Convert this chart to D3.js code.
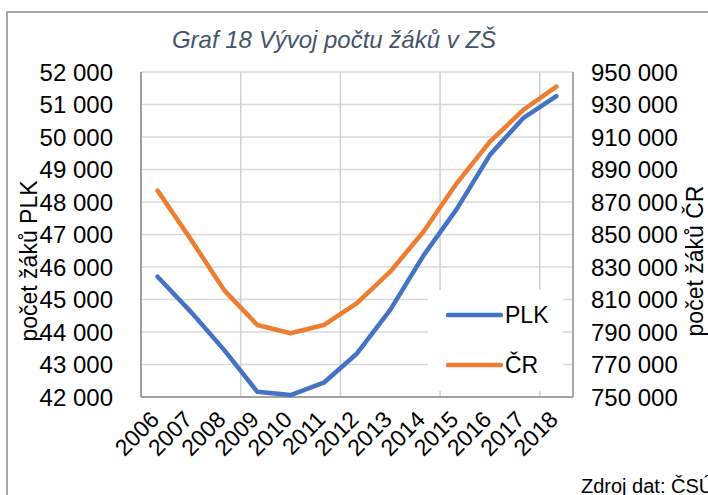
<!DOCTYPE html>
<html>
<head>
<meta charset="utf-8">
<script src="https://cdn.jsdelivr.net/npm/d3@7"></script>
<style>
  body { margin: 0; background: #fff; }
  svg { display: block; font-family: "Liberation Sans", Arial, sans-serif; }
</style>
</head>
<body>
<svg id="chart" width="708" height="495"></svg>
<script>
// data
const years = ["2006", "2007", "2008", "2009", "2010", "2011", "2012", "2013", "2014", "2015", "2016", "2017", "2018"];
const plk = [45700, 44620, 43450, 42160, 42060, 42440, 43340, 44680, 46350, 47780, 49450, 50580, 51260];
const cr = [877000, 847000, 815800, 794300, 789200, 794300, 807700, 827100, 851700, 881500, 907100, 926600, 941000];
const leftTicks = [42000, 43000, 44000, 45000, 46000, 47000, 48000, 49000, 50000, 51000, 52000];
const rightTicks = [750000, 770000, 790000, 810000, 830000, 850000, 870000, 890000, 910000, 930000, 950000];
const seriesNames = ["PLK", "ČR"];
const colors = ["#4472C4", "#ED7D31"];

const plot = { left: 141, right: 573, top: 72, bottom: 397 };
const fmt = d3.formatLocale({ decimal: ",", thousands: " ", grouping: [3], currency: ["", ""] }).format(",d");

const svg = d3.select("#chart");

// outer frame (runs off the right and bottom edge)
svg.append("rect")
  .attr("x", 7).attr("y", 12)
  .attr("width", 760).attr("height", 560)
  .style("fill", "none")
  .style("stroke", "#8c8c8c")
  .style("stroke-width", 1.5);

const x = d3.scaleBand().domain(years).range([plot.left, plot.right]);
const yL = d3.scaleLinear().domain([42000, 52000]).range([plot.bottom, plot.top]);
const yR = d3.scaleLinear().domain([750000, 950000]).range([plot.bottom, plot.top]);

// gridlines
const grid = svg.append("g");
grid.selectAll("line.h")
  .data(leftTicks)
  .join("line")
  .attr("class", "h")
  .attr("x1", plot.left).attr("x2", plot.right)
  .attr("y1", (d) => yL(d)).attr("y2", (d) => yL(d))
  .style("stroke", "#d9d9d9")
  .style("stroke-width", 1.5);

grid.selectAll("line.v")
  .data(years.filter((d, i) => i % 3 === 0))
  .join("line")
  .attr("class", "v")
  .attr("x1", (d) => x(d)).attr("x2", (d) => x(d))
  .attr("y1", plot.top).attr("y2", plot.bottom)
  .style("stroke", "#d0d0d0")
  .style("stroke-width", 1.5);

// axis lines
svg.append("line")
  .attr("x1", plot.left).attr("x2", plot.left)
  .attr("y1", plot.top).attr("y2", plot.bottom)
  .style("stroke", "#8c8c8c").style("stroke-width", 1.5);
svg.append("line")
  .attr("x1", plot.right).attr("x2", plot.right)
  .attr("y1", plot.top).attr("y2", plot.bottom)
  .style("stroke", "#8c8c8c").style("stroke-width", 1.5);
svg.append("line")
  .attr("x1", plot.left).attr("x2", plot.right)
  .attr("y1", plot.bottom).attr("y2", plot.bottom)
  .style("stroke", "#8c8c8c").style("stroke-width", 1.5);

// tick labels
svg.append("g")
  .selectAll("text")
  .data(leftTicks)
  .join("text")
  .attr("x", 113)
  .attr("y", (d) => yL(d))
  .attr("dy", "0.36em")
  .attr("text-anchor", "end")
  .attr("font-size", 24)
  .text((d) => fmt(d));

svg.append("g")
  .selectAll("text")
  .data(rightTicks)
  .join("text")
  .attr("x", 591)
  .attr("y", (d) => yR(d))
  .attr("dy", "0.36em")
  .attr("text-anchor", "start")
  .attr("font-size", 24)
  .text((d) => fmt(d));

svg.append("g")
  .selectAll("text")
  .data(years)
  .join("text")
  .attr("transform", (d) => `translate(${x(d) + x.bandwidth() / 2 + 3}, 421) rotate(-45)`)
  .attr("text-anchor", "end")
  .attr("font-size", 23)
  .text((d) => d);

// axis titles
svg.append("text")
  .attr("transform", "translate(37, 261) rotate(-90)")
  .attr("text-anchor", "middle")
  .attr("font-size", 23)
  .text("počet žáků PLK");

svg.append("text")
  .attr("transform", "translate(703, 261) rotate(-90)")
  .attr("text-anchor", "middle")
  .attr("font-size", 23)
  .text("počet žáků ČR");

// title
svg.append("text")
  .attr("x", 334)
  .attr("y", 48)
  .attr("text-anchor", "middle")
  .attr("font-size", 24)
  .style("font-style", "italic")
  .style("fill", "#44546A")
  .text("Graf 18 Vývoj počtu žáků v ZŠ");

// lines
const cx = (d) => x(d) + x.bandwidth() / 2;
const lineL = d3.line().x((d, i) => cx(years[i])).y((d) => yL(d));
const lineR = d3.line().x((d, i) => cx(years[i])).y((d) => yR(d));

// legend box covers the gridlines under it
svg.append("rect")
  .attr("x", 428).attr("y", 290)
  .attr("width", 135).attr("height", 101)
  .style("fill", "#fff");

svg.append("path")
  .attr("d", lineL(plk))
  .style("fill", "none")
  .style("stroke", colors[0])
  .style("stroke-width", 4.5)
  .style("stroke-linejoin", "round")
  .style("stroke-linecap", "round");

svg.append("path")
  .attr("d", lineR(cr))
  .style("fill", "none")
  .style("stroke", colors[1])
  .style("stroke-width", 4.5)
  .style("stroke-linejoin", "round")
  .style("stroke-linecap", "round");

// legend
const legend = svg.append("g")
  .selectAll("g")
  .data(seriesNames)
  .join("g")
  .attr("transform", (d, i) => `translate(448, ${315 + i * 50})`);

legend.append("line")
  .attr("x1", 0).attr("x2", 53)
  .style("stroke", (d, i) => colors[i])
  .style("stroke-width", 4.5)
  .style("stroke-linecap", "round");

legend.append("text")
  .attr("x", 57)
  .attr("dy", "0.36em")
  .attr("font-size", 23)
  .text((d) => d);

// source note
svg.append("text")
  .attr("x", 581)
  .attr("y", 493)
  .attr("font-size", 20)
  .text("Zdroj dat: ČSÚ");
</script>
</body>
</html>
